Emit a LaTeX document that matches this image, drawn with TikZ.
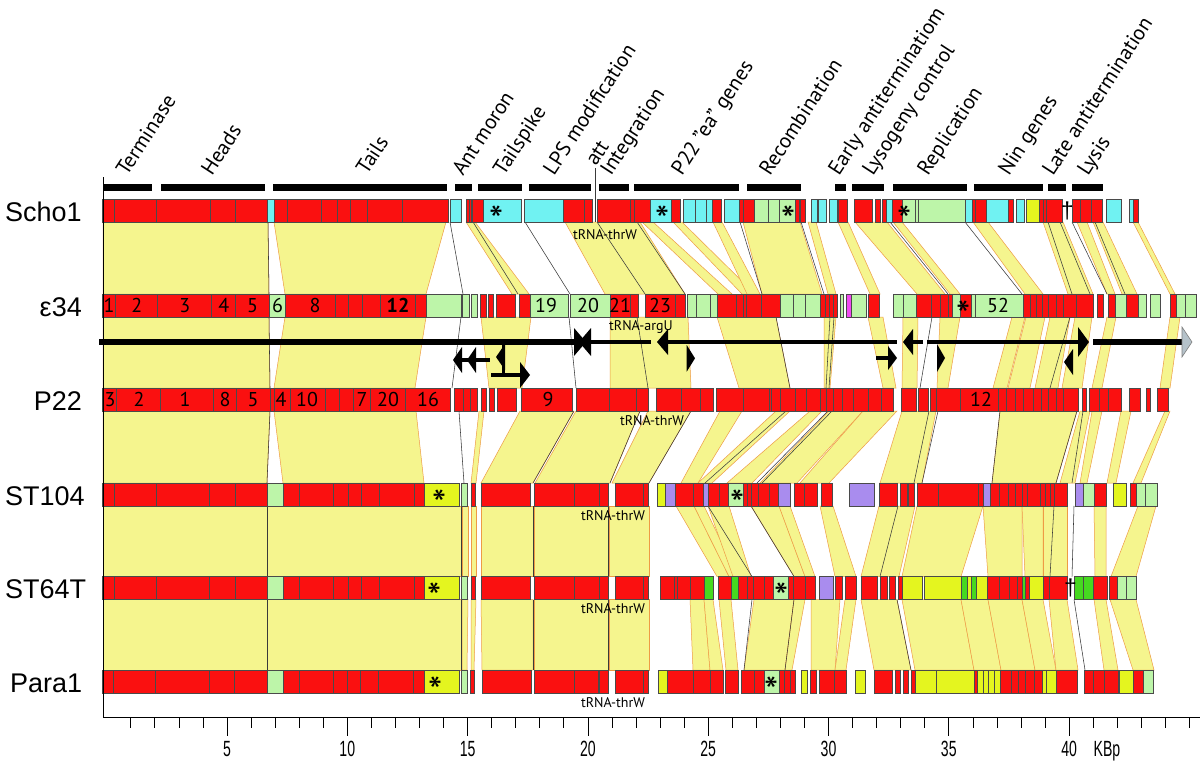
\documentclass[tikz,border=0pt]{standalone}
\usepackage{fontspec}
\setmainfont{PT Sans}
\newfontfamily\rowfont{Liberation Sans}
\newfontfamily\axfont[FakeStretch=0.64]{Liberation Sans}
\definecolor{rd}{HTML}{FA1010}
\definecolor{cy}{HTML}{70F2F2}
\definecolor{lg}{HTML}{BDF5A9}
\definecolor{yl}{HTML}{E4F51F}
\definecolor{gn}{HTML}{46D920}
\definecolor{pu}{HTML}{A98CEE}
\definecolor{mg}{HTML}{F04AF0}
\definecolor{bandfill}{HTML}{F5F58E}
\definecolor{bandedge}{HTML}{EE9B45}
\definecolor{geneedge}{HTML}{4A4A4A}
\definecolor{dlcol}{HTML}{3A3A3A}
\definecolor{arrowgray}{HTML}{B5C2CA}
\newcommand\mkgenes[2]{\foreach \ga/\gb/\gc in {#2}{\filldraw[gene, fill=\gc] (\ga,#1) rectangle (\gb,#1+23);}}
\newcommand\mkbands[3]{\foreach \ba/\bb/\bc/\bd in {#3}{\filldraw[band] (\ba,#1) -- (\bb,#1) -- (\bd,#2) -- (\bc,#2) -- cycle;}}
\newcommand\mklines[3]{\foreach \la/\lb in {#3}{\draw[dl] (\la,#1) -- (\lb,#2);}}
\begin{document}
\begin{tikzpicture}[x=1pt,y=-1pt,
 gene/.style={draw=geneedge, line width=0.6pt},
 band/.style={fill=bandfill, draw=bandedge, line width=0.5pt},
 dl/.style={draw=dlcol, line width=0.55pt},
 cat/.style={rotate=57, anchor=base west, inner sep=0pt, font=\fontsize{21}{21}\selectfont},
 catbar/.style={line width=7pt},
 glab/.style={font=\fontsize{20}{20}\selectfont, inner sep=0pt},
 starl/.style={font=\fontsize{40}{40}\selectfont, inner sep=0pt},
 dagl/.style={font=\rowfont\fontsize{23}{23}\selectfont, inner sep=0pt},
 trna/.style={font=\fontsize{14}{14}\selectfont, inner sep=0pt},
 rowlab/.style={font=\rowfont\fontsize{27}{27}\selectfont, inner sep=0pt},
 axlab/.style={font=\axfont\fontsize{22}{22}\selectfont, inner sep=0pt, anchor=base},
 arrline/.style={line width=4pt},
 thickline/.style={line width=6pt}]
\useasboundingbox (0,0) rectangle (1200,763);
\fill[white] (0,0) rectangle (1200,763);

% ---------- homology bands ----------
\mkbands{222}{294}{103/268/103/269, 274/446/285/426, 466/475/512/529, 565/640/605/685, 642/653/718/732, 673/682/742/755, 713/722/747/760, 743/800/762/822, 808/816/828/836, 838/848/870/880, 855/887/917/945, 893/902/950/960, 973/988/1025/1043, 1043/1063/1068/1093, 1077/1087/1107/1115, 1093/1103/1122/1137, 1133/1138/1170/1175}
\mklines{222}{294}{268/269, 450/463, 473/518, 525/570, 597/645, 637/685, 740/762, 801/824, 890/948, 965/1022, 1048/1072, 1060/1090, 1072/1107, 1095/1125}

\mkbands{317}{388}{103/269/103/270, 285/426/274/415, 481/531/489/522, 610/688/610/691, 717/776/739/790, 824/836/824/830, 868/883/883/896, 903/918/902/917, 940/960/937/948, 1012/1025/993/1007, 1026/1045/1008/1030, 1050/1070/1035/1058, 1075/1092/1062/1082, 1107/1116/1092/1102, 1170/1180/1160/1170}
\mklines{317}{388}{269/270, 461/452, 569/576, 637/648, 776/790, 830/826, 834/829, 932/920, 1070/1050}

\mkbands{411}{483}{103/270/103/267, 274/416/283/424, 479/484/471/476, 520/574/481/533, 576/640/535/610, 648/691/612/649, 720/742/681/698, 776/790/698/712, 810/822/727/752, 829/863/760/797, 863/897/800/829, 902/936/880/922, 1000/1077/992/1056, 1080/1090/1060/1075, 1092/1102/1080/1087, 1121/1131/1107/1116, 1165/1170/1133/1141}
\mklines{411}{483}{270/267, 459/464, 574/533, 640/610, 691/649, 786/705, 828/757, 832/762, 929/914, 938/922, 1000/992, 1077/1056, 1083/1072}

\mkbands{506}{576.5}{103/267.5/103/267.5, 267.5/461/267.5/461, 462/468/462/468, 471/476/471/476, 481/533/481/533, 534/608/534/608, 609/649/609/649, 676/694/717/729, 694/704/729/738, 708/729/733/751, 751/779/794/805, 779/790/805/815, 820/833/835/856, 879/915/861/899, 917/983/902/961, 983/1022/988/1022, 1022/1043/1025/1043, 1043/1067/1043/1067, 1094/1106/1095/1106, 1138/1156/1111/1136}
\mklines{506}{576.5}{267.5/267.5, 461/461, 533/533, 608/608, 708/752, 751/794, 1054/1050, 1074/1072, 898/880}

\mkbands{599.5}{670}{103/267/103/267, 267/461/267/461, 462/468/462/467, 471/476/471/474, 481/533/482/533, 534/608/534/608, 609/649/609/649, 690/704/693/710, 704/713/710/723, 719/731/726/738, 754/794/744/785, 794/805/785/792, 811/840/811/835, 845/856/835/846, 861/897/874/911, 902/961/915/974, 961/988/974/1001, 988/1022/1001/1035, 1022/1043/1035/1056, 1049/1067/1056/1078, 1094/1106/1104/1118, 1110/1136/1133/1154}
\mklines{599.5}{670}{267/267, 461/461, 533/533, 608/608, 752/744, 794/785, 1074/1085, 897/911}

% ---------- transcription arrows ----------
\draw[thickline] (99,342) -- (576,342);
\fill (574,328) -- (586,342) -- (574,356) -- cycle;
\fill (591,328) -- (579,342) -- (591,356) -- cycle;
\draw[line width=3.5pt] (590,342) -- (651,342);
\fill (657,342) -- (668,329) -- (668,355) -- cycle;
\draw[arrline] (666,342) -- (897,342);
\fill (686.7,345) -- (695,358.3) -- (686.7,371.7) -- cycle;
\draw[arrline] (876,358) -- (889,358);
\fill (888,346) -- (897,358) -- (888,370) -- cycle;
\fill (903,342) -- (913,329) -- (913,355) -- cycle;
\draw[arrline] (912,342) -- (923,342);
\draw[arrline] (927,342) -- (1079,342);
\fill (1078,327) -- (1089,342) -- (1078,357) -- cycle;
\fill (937,344) -- (945,358) -- (937,372) -- cycle;
\fill (1073,349) -- (1064,362) -- (1073,375) -- cycle;
\draw[thickline] (1093,342) -- (1183,342);
\filldraw[fill=arrowgray, draw=gray, line width=0.6pt] (1182,327) -- (1192,342) -- (1182,357) -- cycle;
\draw[arrline] (460,360) -- (490,360);
\fill (453,360) -- (462,347) -- (462,373) -- cycle;
\fill (467,360) -- (476,347) -- (476,373) -- cycle;
\fill (505,344) -- (496,357) -- (505,370) -- cycle;
\draw[line width=3pt] (503.5,344) -- (503.5,376.5);
\draw[arrline] (491,375) -- (522,375);
\fill (520,362) -- (530,375) -- (520,388) -- cycle;

% ---------- genes ----------
\mkgenes{199}{102.7/114.3/rd, 114.3/156.7/rd, 156.7/210/rd, 210/235.3/rd, 235.3/267.7/rd, 267.7/274/cy, 274/287.3/rd, 287.3/321.7/rd, 321.7/337.3/rd, 337.3/350/rd, 350/367.3/rd, 367.3/402.3/rd, 402.3/448.3/rd, 450.7/461/cy, 466/469/rd, 469/471/rd, 472.7/483.3/rd, 483.3/521.7/cy, 524.3/563.3/cy, 563.3/584.3/rd, 584.3/592.7/rd, 597.7/630/rd, 630/634/rd, 634/650/rd, 650/671.7/cy, 671.7/680/rd, 683.3/695/cy, 695/706.7/cy, 706.7/712.3/cy, 712.3/721.7/rd, 724.3/739.3/cy, 739.3/743.3/rd, 743.3/754/rd, 754/768.3/lg, 768.3/779.3/lg, 779.3/795/lg, 795/799.3/rd, 799.3/800.7/mg, 800.7/805/rd, 811.7/817.3/cy, 818.7/826.7/cy, 829.3/837.3/cy, 838.3/847.7/rd, 854/872/rd, 875/880.7/rd, 882.7/886.7/rd, 886.7/892.3/cy, 892.3/902.7/rd, 902.7/915/lg, 915/918.3/lg, 918.3/965/lg, 965/972.3/cy, 972.3/975.7/rd, 975.7/986/rd, 986/1008.3/cy, 1008.3/1013.3/rd, 1016.7/1024.3/cy, 1026.7/1039/yl, 1039/1043/rd, 1043/1046.7/rd, 1046.7/1062.3/rd, 1072.3/1080.7/rd, 1080.7/1091.7/rd, 1091.7/1102.7/rd, 1106.7/1121/cy, 1129.3/1133.3/cy, 1133.3/1138.3/rd}

\mkgenes{294}{102.7/115.7/rd, 115.7/157.7/rd, 157.7/211.7/rd, 211.7/235.7/rd, 235.7/269.3/rd, 269.3/285/lg, 285/335/rd, 335/348.3/rd, 348.3/362.7/rd, 362.7/380.7/rd, 380.7/415.7/rd, 415.7/426/rd, 426/461/lg, 462.7/469.3/lg, 471/477.7/lg, 480.7/486.7/rd, 488.3/493.3/rd, 496.7/515/rd, 519.3/530/rd, 530/568.3/lg, 570/610/lg, 610/630/rd, 630/638.3/rd, 645/675/rd, 675/685/rd, 687.3/696.7/lg, 696.7/710/lg, 710/717.3/lg, 717.3/736.7/rd, 736.7/743.3/rd, 743.3/746.7/rd, 746.7/761.7/rd, 761.7/780/rd, 780/793.3/lg, 793.3/805/lg, 805/820/lg, 820/825/rd, 825/829.3/rd, 829.3/833.3/rd, 833.3/837.3/rd, 840/843.3/lg, 846.7/851.7/mg, 851.7/866.7/lg, 868.3/879/rd, 893.3/903.3/lg, 903.3/916.7/lg, 916.7/931.7/rd, 931.7/940/rd, 940/948.3/rd, 948.3/952.7/rd, 952.7/960/lg, 960/971.7/rd, 971.7/975.7/lg, 975.7/1023.3/lg, 1023.3/1030/rd, 1030/1036.7/rd, 1036.7/1042.7/rd, 1042.7/1048.3/rd, 1048.3/1056.7/rd, 1056.7/1063.3/rd, 1063.3/1076.7/rd, 1076.7/1093.3/rd, 1097.3/1103.3/rd, 1108.3/1115/rd, 1115/1126.7/lg, 1126.7/1138.3/rd, 1138.3/1146/lg, 1150/1160/lg, 1170/1176/rd, 1176/1185/lg, 1185/1196/lg}

\mkgenes{388}{102.7/116.7/rd, 116.7/160/rd, 160/213.3/rd, 213.3/236.7/rd, 236.7/270/rd, 270/274/rd, 274/290/rd, 290/325/rd, 325/339.3/rd, 339.3/353.3/rd, 353.3/370/rd, 370/405/rd, 405/450.7/rd, 454/463.3/rd, 463.3/470/rd, 470/477.3/rd, 481.7/486.7/rd, 489.3/494/rd, 497.3/516.7/rd, 521.7/572.7/rd, 576.7/609.3/rd, 609.3/636.7/rd, 636.7/648.3/rd, 656/681.7/rd, 681.7/700/rd, 700/713.3/rd, 716.7/743.3/rd, 743.3/769.3/rd, 769.3/771.7/rd, 771.7/780/rd, 780/795/rd, 795/806.7/rd, 806.7/820/rd, 820/826.7/rd, 826.7/833.3/rd, 833.3/842.7/rd, 842.7/853.3/rd, 853.3/868.3/rd, 868.3/881.7/rd, 881.7/893.3/rd, 901.7/916.7/rd, 918.3/928.3/rd, 930/936/rd, 936.7/960/rd, 960/998.3/rd, 998.3/1006.7/rd, 1006.7/1015/rd, 1015/1023.3/rd, 1023.3/1033.3/rd, 1033.3/1041.7/rd, 1041.7/1048.3/rd, 1048.3/1056.7/rd, 1056.7/1063.3/rd, 1063.3/1078.3/rd, 1082.7/1086.7/rd, 1089.3/1099.3/rd, 1099.3/1108.3/rd, 1108.3/1121.7/rd, 1129.3/1140.7/rd, 1146/1150/rd, 1157.7/1168.3/rd}

\mkgenes{483}{102.5/114.3/rd, 114.3/156/rd, 156/209.6/rd, 209.6/235.4/rd, 235.4/267.5/rd, 267.5/282.9/lg, 282.9/299.6/rd, 299.6/333.6/rd, 333.6/348.2/rd, 348.2/361.4/rd, 361.4/379.3/rd, 379.3/413.9/rd, 413.9/424.6/rd, 424.6/459.6/yl, 461.4/467.5/lg, 471/475/rd, 481/530/rd, 534.6/574.6/rd, 574.6/598.9/rd, 598.9/607.9/rd, 615/642.9/rd, 642.9/648/rd, 656.8/665.7/yl, 665.7/675.7/pu, 675.7/693.6/rd, 693.6/703.6/rd, 703.6/707.9/pu, 707.9/719.3/rd, 719.3/728.6/rd, 728.6/743.6/lg, 743.6/747.1/rd, 747.1/751.4/rd, 751.4/757.9/rd, 757.9/769.3/rd, 769.3/778.2/rd, 778.2/790.7/pu, 794.6/804.3/rd, 804.3/817.5/rd, 821/831.8/rd, 849.6/874.6/pu, 879.3/897.1/rd, 900.7/907.1/rd, 908.6/914.3/rd, 916.8/938.2/rd, 938.2/978.6/rd, 978.6/982.9/rd, 982.9/990/pu, 990/998.9/rd, 998.9/1007.9/rd, 1007.9/1015/rd, 1015/1022.1/rd, 1022.1/1027.5/rd, 1027.5/1040/rd, 1040/1045.4/rd, 1045.4/1050.7/rd, 1050.7/1054.3/rd, 1054.3/1066.8/rd, 1075/1083.6/pu, 1083.6/1094.3/lg, 1094.3/1106/rd, 1113.2/1126.4/yl, 1130/1136.4/rd, 1136.4/1145.4/lg, 1145.4/1156.8/lg}

\mkgenes{576.5}{102.5/114.3/rd, 114.3/156/rd, 156/209.6/rd, 209.6/235.4/rd, 235.4/267.5/rd, 267.5/282.9/lg, 282.9/299.6/rd, 299.6/333.6/rd, 333.6/348.2/rd, 348.2/361.4/rd, 361.4/379.3/rd, 379.3/413.9/rd, 413.9/424.6/rd, 424.6/459.6/yl, 461.4/467.5/lg, 471/475/rd, 481/530/rd, 534.6/574.6/rd, 574.6/598.9/rd, 598.9/607.9/rd, 615/642.9/rd, 642.9/648/rd, 660.4/673.9/rd, 673.9/677.5/rd, 677.5/690/rd, 690/704.3/rd, 704.3/713.2/gn, 718.6/731/rd, 731/738.2/gn, 738.2/747.1/rd, 747.1/753.6/rd, 753.6/764.3/rd, 764.3/772.9/rd, 772.9/788.2/lg, 788.2/793.6/rd, 793.6/805/rd, 805/815/rd, 819.3/832.9/pu, 835.7/842.5/rd, 845.4/856/rd, 861.4/877.5/rd, 880/887.1/rd, 889/895.4/rd, 897.9/902.5/rd, 902.5/922.1/yl, 924.6/961.4/yl, 961.4/966.8/gn, 966.8/971.4/yl, 971.4/976.4/gn, 976.4/987.1/yl, 987.1/998.9/rd, 998.9/1009.6/rd, 1009.6/1016.8/rd, 1016.8/1022.1/rd, 1022.1/1025.7/gn, 1025.7/1029.3/rd, 1029.3/1042.9/yl, 1042.9/1049/rd, 1049/1066.8/rd, 1074/1082.9/gn, 1082.9/1093.6/gn, 1093.6/1107/rd, 1109.6/1116.8/rd, 1116.8/1126.4/lg, 1126.4/1136.4/lg}

\mkgenes{670}{102.5/113.2/rd, 113.2/155.4/rd, 155.4/209.6/rd, 209.6/234.6/rd, 234.6/266.8/rd, 266.8/282.9/lg, 282.9/298.9/rd, 298.9/332.9/rd, 332.9/347.1/rd, 347.1/360.7/rd, 360.7/378.6/rd, 378.6/413.2/rd, 413.2/423.9/rd, 423.9/459.6/yl, 461.4/466.8/lg, 470.4/473.9/rd, 481.8/531.1/rd, 533.9/573.9/rd, 573.9/597.9/rd, 599.6/607.9/rd, 615/643.6/rd, 643.6/648/rd, 657.9/667.5/yl, 667.5/692.9/rd, 692.9/710.4/rd, 710.4/722.9/rd, 725.7/738.2/rd, 741.4/754.3/rd, 754.3/764.3/rd, 764.3/779.3/lg, 779.3/784.6/rd, 784.6/790/rd, 790/795.7/rd, 801.4/806.8/yl, 810.7/816/rd, 819.6/834.6/rd, 834.6/846/rd, 855.4/865/yl, 873.9/891.8/rd, 895.4/900.7/rd, 903.2/908.6/rd, 911.4/915/rd, 915/936.4/yl, 936.4/973.9/yl, 973.9/977.5/rd, 977.5/983/yl, 983/988/yl, 988/994/yl, 994/1000.7/yl, 1000.7/1011.4/rd, 1011.4/1018.6/rd, 1018.6/1025.7/rd, 1025.7/1034.6/rd, 1034.6/1042.5/rd, 1042.5/1046/yl, 1046/1056/yl, 1056/1077.5/rd, 1084.6/1093.6/rd, 1093.6/1104.3/rd, 1104.3/1117.9/rd, 1119.3/1133.6/yl, 1133.6/1142.9/rd, 1142.9/1153.6/lg}

% ---------- gene labels ----------
\foreach \gx/\gt [count=\i] in {109/1, 136.7/2, 184.7/3, 223.7/4, 252.5/5, 277.5/6, 315/8, 546/19, 588/20, 620/21, 660/23, 998/52}
  \node[glab] (ge\i) at (\gx,305.5) {\gt};
\node[glab, font=\bfseries\fontsize{20}{20}\selectfont] (ge12) at (398,305.5) {12};
\foreach \gx/\gt [count=\i] in {110/3, 139/2, 185/1, 225/8, 253/5, 281/4, 307/10, 362/7, 388/20, 428/16, 548/9, 981/12}
  \node[glab] (gp\i) at (\gx,399.5) {\gt};

% stars and daggers
\foreach \sx/\sy [count=\i] in {497/210.5, 662.7/210.5, 788.3/210.5, 905/210.5, 964/305.5, 440/494.5, 738/494.5, 434.6/588, 782/588, 435.7/681.5, 772/681.5}
  \node[starl] (st\i) at (\sx,\sy+9.5) {*};
\node[dagl] (dg1) at (1067.3,210.5) {†};
\node[dagl] (dg2) at (1070.4,588) {†};

% tRNA labels
\node[trna] (t1) at (605,235) {tRNA-thrW};
\node[trna] (t2) at (641,327) {tRNA-argU};
\node[trna] (t3) at (652,421) {tRNA-thrW};
\node[trna] (t4) at (613,516) {tRNA-thrW};
\node[trna] (t5) at (613,609) {tRNA-thrW};
\node[trna] (t6) at (613,703) {tRNA-thrW};

% ---------- row labels ----------
\node[rowlab, anchor=base west] (lscho) at (5,221) {Scho1};
\node[rowlab, anchor=base east] (leps) at (82,316) {ε34};
\node[rowlab, anchor=base east] (lp22) at (82,410) {P22};
\node[rowlab, anchor=base west] (lst104) at (5,505) {ST104};
\node[rowlab, anchor=base west] (lst64) at (5,598.5) {ST64T};
\node[rowlab, anchor=base west] (lpara) at (10,692) {Para1};

% ---------- functional modules ----------
\foreach \ca/\cb in {103/152, 161/265, 273/447, 455/472, 478/522, 529/591, 599/629, 634/739, 747/801, 835/846, 852/884, 893/967, 974/1043, 1048/1066, 1072/1103}
  \draw[catbar] (\ca,187.5) -- (\cb,187.5);
\draw[dlcol, line width=0.8pt] (595,168) -- (595,222);
\node[cat] (c1) at (127,177) {Terminase};
\node[cat] (c2) at (212,177) {Heads};
\node[cat] (c3) at (367,176) {Tails};
\node[cat] (c4) at (463,177) {Ant moron};
\node[cat] (c5) at (504,177) {Tailspike};
\node[cat] (c6) at (554,177) {LPS modification};
\node[cat] (c7) at (596,167) {att};
\node[cat] (c8) at (611,177) {Integration};
\node[cat] (c9) at (682,177) {P22 "ea" genes};
\node[cat] (c10) at (770,177) {Recombination};
\node[cat] (c11) at (839,177) {Early antiterminatiom};
\node[cat] (c12) at (873,177) {Lysogeny control};
\node[cat] (c13) at (928,177) {Replication};
\node[cat] (c14) at (1009,177) {Nin genes};
\node[cat] (c15) at (1053,177) {Late antitermination};
\node[cat] (c16) at (1088,177) {Lysis};

% ---------- axis ----------
\draw[line width=0.9pt] (103,177) -- (103,717) -- (1200,717);
\foreach \k in {1,...,45}
  \draw[line width=0.7pt] ({106.7+24.06*\k},717) -- ++(0,11);
\foreach \k in {5,10,...,40}{
  \draw[line width=0.7pt] ({106.7+24.06*\k},717) -- ++(0,19);
  \node[axlab] (ax\k) at ({106.7+24.06*\k},756) {\k};}
\node[axlab] (kbp) at (1107,756) {KBp};
\end{tikzpicture}
\end{document}
